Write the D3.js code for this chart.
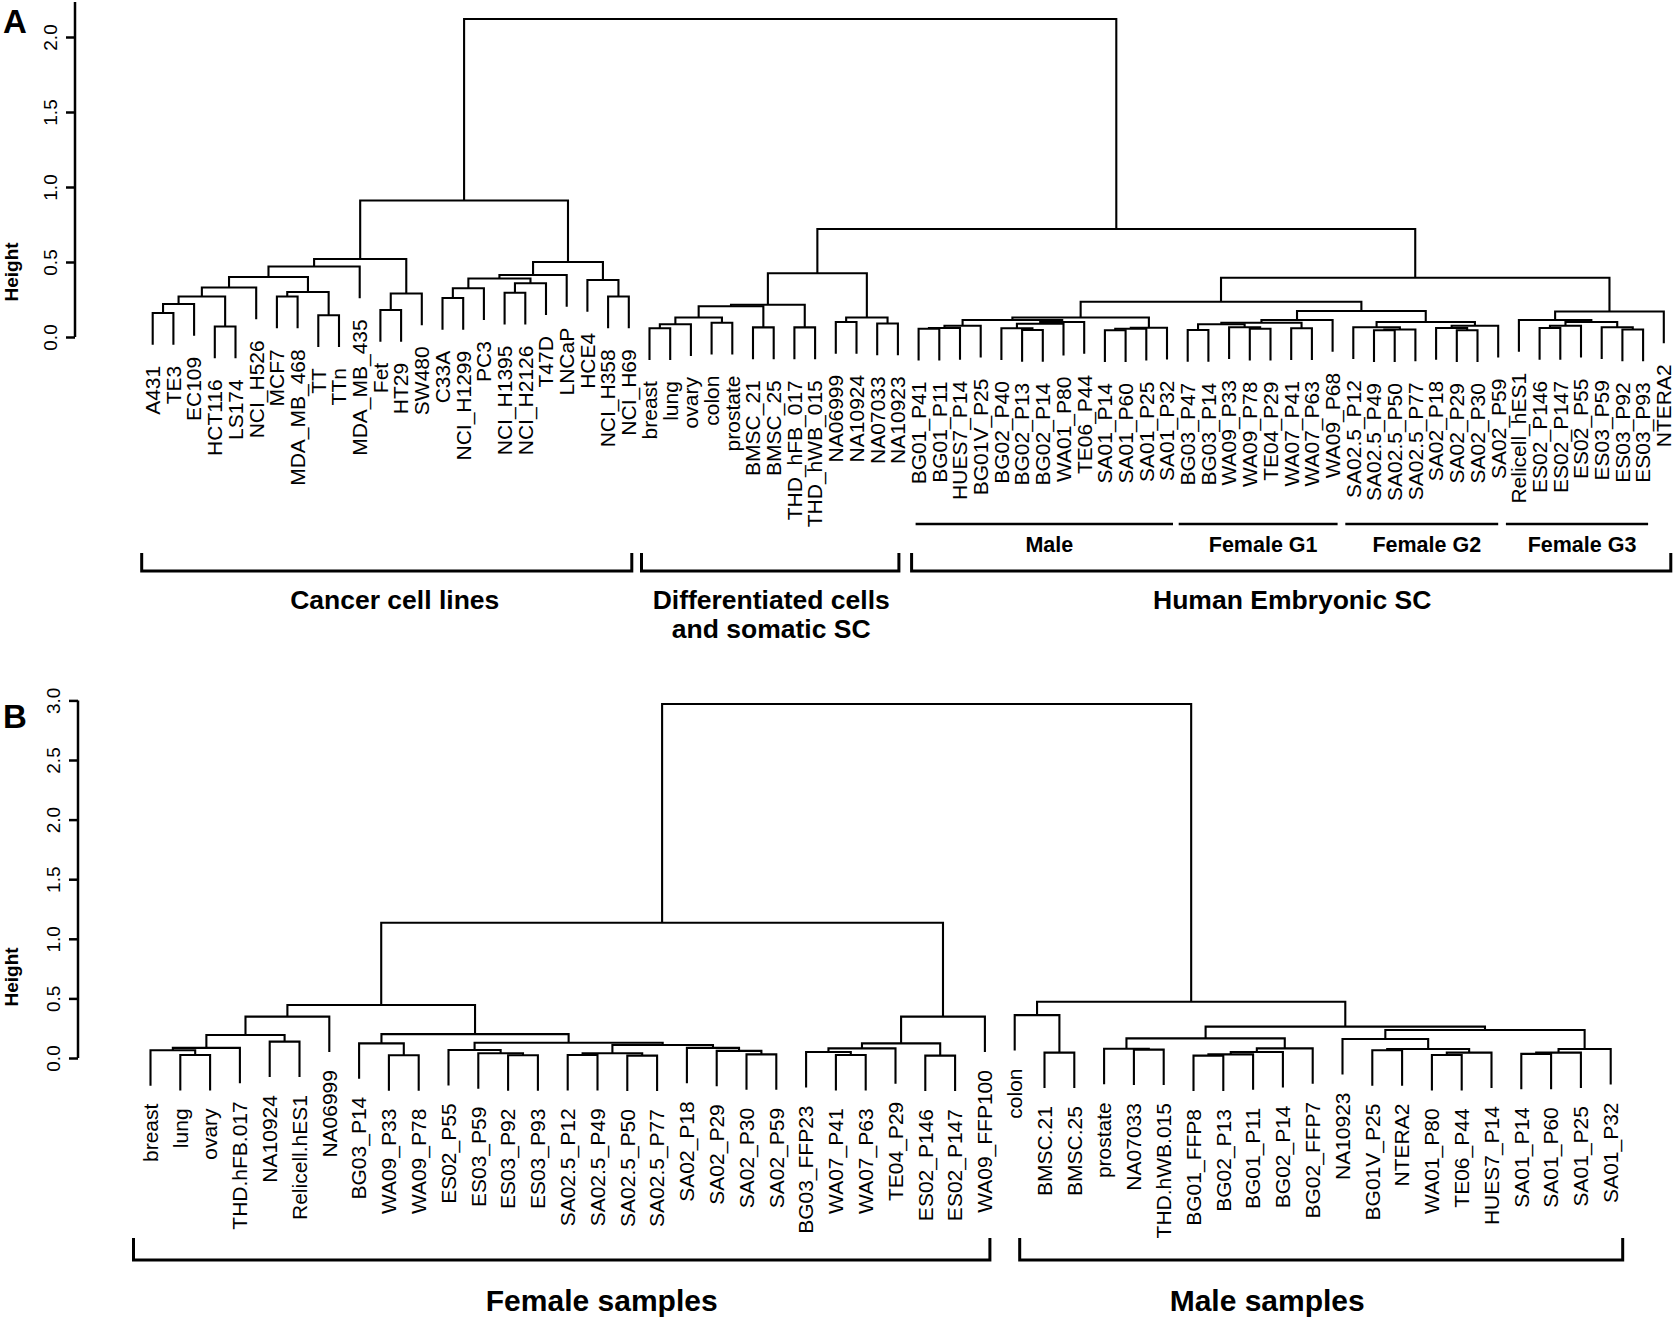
<!DOCTYPE html>
<html><head><meta charset="utf-8">
<script src="https://cdn.jsdelivr.net/npm/d3@7"></script>
<style>
body{margin:0;background:#fff;}
svg{display:block;}
text{font-family:"Liberation Sans",Arial,Helvetica,sans-serif;fill:#000;}
</style></head><body>
<svg id="chart" width="1674" height="1318"></svg>
<script>
// ---------- DATA: Panel A (nested merges: [height, left, right]) ----------
const cancerTree = [0.91,
  [0.52,
    [0.47,
      [0.40,
        [0.33, [0.27, [0.22, [0.16, "A431", "TE3"], "EC109"], [0.07, "HCT116", "LS174"]], "NCI_H526"],
        [0.30, [0.27, "MCF7", "MDA_MB_468"], [0.145, "TT", "TTn"]]],
      "MDA_MB_435"],
    [0.29, [0.18, "Fet", "HT29"], "SW480"]],
  [0.50,
    [0.413, [0.39, [0.325, [0.26, "C33A", "NCI_H1299"], "PC3"], [0.358, [0.295, "NCI_H1395", "NCI_H2126"], "T47D"]], "LNCaP"],
    [0.38, "HCE4", [0.27, "NCI_H358", "NCI_H69"]]]];
const diffTree = [0.425,
  [0.215, [0.205, [0.13, [0.085, [0.058, "breast", "lung"], "ovary"], [0.095, "colon", "prostate"]], [0.064, "BMSC_21", "BMSC_25"]], [0.064, "THD_hFB_017", "THD_hWB_015"]],
  [0.13, [0.10, "NA06999", "NA10924"], [0.09, "NA07033", "NA10923"]]];
const hescMale = [0.13,
  [0.113, [0.075, [0.06, [0.055, "BG01_P41", "BG01_P11"], "HUES7_P14"], "BG01V_P25"],
          [0.10, [0.088, [0.058, "BG02_P40", [0.047, "BG02_P13", "BG02_P14"]], "WA01_P80"], "TE06_P44"]],
  [0.062, [0.055, [0.045, "SA01_P14", "SA01_P60"], "SA01_P25"], "SA01_P32"]];
const hescG1 = [0.113,
  [0.095, [0.085, [0.047, "BG03_P47", "BG03_P14"], [0.065, "WA09_P33", [0.055, "WA09_P78", "TE04_P29"]]], [0.058, "WA07_P41", "WA07_P63"]],
  "WA09_P68"];
const hescG2 = [0.10,
  [0.065, "SA02.5_P12", [0.05, [0.045, "SA02.5_P49", "SA02.5_P50"], "SA02.5_P77"]],
  [0.075, [0.06, "SA02_P18", [0.045, "SA02_P29", "SA02_P30"]], "SA02_P59"]];
const hescG3 = [0.113, "Relicell_hES1",
  [0.10, [0.075, [0.06, "ES02_P146", "ES02_P147"], "ES02_P55"], [0.065, "ES03_P59", [0.05, "ES03_P92", "ES03_P93"]]]];
const hescTree = [0.395, [0.235, hescMale, [0.173, hescG1, hescG2]], [0.17, hescG3, "NTERA2"]];
const treeA = [2.12, cancerTree, [0.72, diffTree, hescTree]];
const ticksA = [0, 0.5, 1, 1.5, 2];

// ---------- DATA: Panel B ----------
const femaleLeft = [0.445,
  [0.347, [0.193, [0.085, [0.065, "breast", [0.025, "lung", "ovary"]], "THD.hFB.017"], [0.137, "NA10924", "Relicell.hES1"]], "NA06999"],
  [0.20, [0.123, "BG03_P14", [0.023, "WA09_P33", "WA09_P78"]],
         [0.128, [0.067, "ES02_P55", [0.04, "ES03_P59", [0.023, "ES03_P92", "ES03_P93"]]],
                 [0.109, [0.04, [0.025, "SA02.5_P12", "SA02.5_P49"], [0.02, "SA02.5_P50", "SA02.5_P77"]],
                         [0.085, "SA02_P18", [0.06, "SA02_P29", [0.03, "SA02_P30", "SA02_P59"]]]]]]];
const femaleRight = [0.347,
  [0.123, [0.081, [0.05, "BG03_FFP23", [0.025, "WA07_P41", "WA07_P63"]], "TE04_P29"], [0.02, "ES02_P146", "ES02_P147"]],
  "WA09_FFP100"];
const maleB = [0.472,
  [0.36, "colon", [0.045, "BMSC.21", "BMSC.25"]],
  [0.263,
    [0.165, [0.077, "prostate", [0.07, "NA07033", "THD.hWB.015"]],
            [0.081, [0.05, [0.03, [0.02, "BG01_FFP8", "BG02_P13"], "BG01_P11"], "BG02_P14"], "BG02_FFP7"]],
    [0.235, [0.159, "NA10923", [0.075, [0.065, "BG01V_P25", "NTERA2"], [0.045, [0.025, "WA01_P80", "TE06_P44"], "HUES7_P14"]]],
            [0.075, [0.045, [0.035, "SA01_P14", "SA01_P60"], "SA01_P25"], "SA01_P32"]]]];
const treeB = [2.97, [1.135, femaleLeft, femaleRight], maleB];
const ticksB = [0, 0.5, 1, 1.5, 2, 2.5, 3];

// ---------- annotations ----------
const bracketsA = [
  {lines: ["Cancer cell lines"], first: "A431", last: "NCI_H69", padL: 11, padR: 3, dx: 8},
  {lines: ["Differentiated cells", "and somatic SC"], first: "breast", last: "NA10923", padL: 8, padR: 1, dx: 1},
  {lines: ["Human Embryonic SC"], first: "BG01_P41", last: "NTERA2", padL: 7, padR: 7, dx: 1}];
const subgroupsA = [
  {label: "Male", first: "BG01_P41", last: "SA01_P32", padL: 3, padR: 6},
  {label: "Female G1", first: "BG03_P47", last: "WA09_P68", padL: 9, padR: 5},
  {label: "Female G2", first: "SA02.5_P12", last: "SA02_P59", padL: 8, padR: 0},
  {label: "Female G3", first: "Relicell_hES1", last: "ES03_P93", padL: 13, padR: 5}];
const bracketsB = [
  {lines: ["Female samples"], first: "breast", last: "WA09_FFP100", padL: 17, padR: 5, dx: 40},
  {lines: ["Male samples"], first: "colon", last: "SA01_P32", padL: -5, padR: 12, dx: -54}];

// ---------- drawing ----------
const svg = d3.select("#chart");

function drawPanel(cfg) {
  const root = d3.hierarchy(cfg.tree, d => Array.isArray(d) ? [d[1], d[2]] : null);
  const leaves = root.leaves();
  const n = leaves.length;
  const x = d3.scaleLinear().domain([0, n - 1]).range(cfg.xRange);
  const y = d3.scaleLinear().domain(cfg.yDomain).range(cfg.yRange);
  const hang = 0.1 * cfg.tree[0];
  const pos = {};
  leaves.forEach((l, i) => { l.px = x(i); l.h = l.parent.data[0] - hang; pos[l.data] = l.px; });
  root.eachAfter(d => { if (d.children) { d.px = (d.children[0].px + d.children[1].px) / 2; d.h = d.data[0]; } });

  const g = svg.append("g");
  const internals = root.descendants().filter(d => d.children);
  g.selectAll("path.link").data(internals).join("path")
    .attr("class", "link")
    .attr("fill", "none").attr("stroke", "#000").attr("stroke-width", 2.1)
    .attr("d", d => {
      const [a, b] = d.children;
      return `M${a.px},${y(a.h)}V${y(d.h)}H${b.px}V${y(b.h)}`;
    });

  g.selectAll("text.leaf").data(leaves).join("text")
    .attr("class", "leaf")
    .attr("transform", d => `translate(${d.px},${y(d.h) + cfg.labelGap}) rotate(-90)`)
    .attr("dy", "0.35em")
    .attr("text-anchor", "end")
    .style("font-size", cfg.labelSize + "px")
    .text(d => d.data);

  // axis
  const axis = d3.axisLeft(y).tickValues(cfg.ticks).tickSize(9).tickFormat(d3.format(".1f"));
  const ag = g.append("g").attr("transform", `translate(${cfg.axisX},0)`).call(axis);
  ag.select(".domain").remove();
  ag.append("line").attr("x1", 0).attr("x2", 0)
    .attr("y1", y(0)).attr("y2", cfg.axisTop).attr("stroke", "#000").attr("stroke-width", 2.5);
  ag.selectAll(".tick line").attr("stroke", "#000").attr("stroke-width", 2.5);
  ag.selectAll(".tick text")
    .attr("transform", "rotate(-90)")
    .attr("x", 0).attr("y", -25).attr("dy", "0.35em")
    .attr("text-anchor", "middle")
    .style("font-family", "Liberation Sans, Arial, sans-serif")
    .style("font-size", "19px").attr("fill", "#000");
  g.append("text")
    .attr("transform", `translate(${cfg.heightX},${cfg.heightY}) rotate(-90)`)
    .attr("text-anchor", "middle").attr("dy", "0.35em")
    .style("font-size", "19px").style("font-weight", "bold").text("Height");
  g.append("text").attr("x", 3).attr("y", cfg.letterY)
    .style("font-size", "33px").style("font-weight", "bold").text(cfg.letter);

  // brackets
  cfg.brackets.forEach(b => {
    const x1 = pos[b.first] - b.padL, x2 = pos[b.last] + b.padR;
    g.append("path").attr("fill", "none").attr("stroke", "#000").attr("stroke-width", 3)
      .attr("d", `M${x1},${cfg.bracketTop}V${cfg.bracketBottom}H${x2}V${cfg.bracketTop}`);
    b.lines.forEach((t, i) => {
      g.append("text").attr("x", (x1 + x2) / 2 + b.dx).attr("y", cfg.bracketTextY + i * 29)
        .attr("text-anchor", "middle").style("font-size", cfg.bracketFont + "px").style("font-weight", "bold").text(t);
    });
  });
  (cfg.subgroups || []).forEach(s => {
    const x1 = pos[s.first] - s.padL, x2 = pos[s.last] + s.padR;
    g.append("line").attr("x1", x1).attr("x2", x2).attr("y1", cfg.subY).attr("y2", cfg.subY)
      .attr("stroke", "#000").attr("stroke-width", 2.5);
    g.append("text").attr("x", (x1 + x2) / 2 + 5).attr("y", cfg.subY + 28)
      .attr("text-anchor", "middle").style("font-size", "21.5px").style("font-weight", "bold").text(s.label);
  });
}

drawPanel({
  tree: treeA, xRange: [152.7, 1663.8], yDomain: [0, 2], yRange: [337, 37],
  labelGap: 21, labelSize: 21, ticks: ticksA, axisX: 75, axisTop: 2,
  heightX: 11, heightY: 272, letter: "A", letterY: 33,
  brackets: bracketsA, bracketTop: 553, bracketBottom: 571, bracketTextY: 609, bracketFont: 26.5,
  subgroups: subgroupsA, subY: 524
});
drawPanel({
  tree: treeB, xRange: [150.5, 1610.7], yDomain: [0, 3], yRange: [1058, 700.4],
  labelGap: 18, labelSize: 21, ticks: ticksB, axisX: 78, axisTop: 700.4,
  heightX: 11, heightY: 977, letter: "B", letterY: 728,
  brackets: bracketsB, bracketTop: 1238, bracketBottom: 1260, bracketTextY: 1311, bracketFont: 30
});
</script>
</body></html>
